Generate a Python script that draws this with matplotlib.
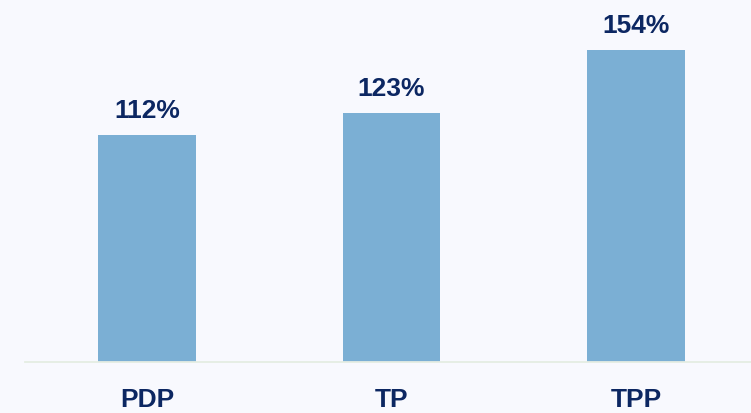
import matplotlib
matplotlib.use('Agg')
import matplotlib.pyplot as plt

# Chart data
categories = ['PDP', 'TP', 'TPP']
values = [112, 123, 154]
value_labels = ['112%', '123%', '154%']

BG = '#F8F9FE'
BAR = '#7BAFD4'
TEXT = '#0C2762'

plt.rcParams['font.family'] = ['Liberation Sans', 'DejaVu Sans']

fig = plt.figure(figsize=(7.51, 4.14), dpi=100, facecolor=BG)
ax = fig.add_axes([25 / 751, 51 / 414, 726 / 751, 363 / 414])
ax.set_facecolor(BG)

x = list(range(len(categories)))
ax.bar(x, values, width=0.4, color=BAR, zorder=2)

# percentage labels above the bars
for xi, v, lab in zip(x, values, value_labels):
    ax.annotate(lab, (xi, v), xytext=(0, 13), textcoords='offset points',
                ha='center', va='baseline', fontsize=19, fontweight='bold',
                color=TEXT)

ax.set_xlim(-0.499, 2.47)
ax.set_ylim(0, 179)

ax.set_xticks(x)
ax.set_xticklabels(categories, fontsize=19, fontweight='bold', color=TEXT)
ax.tick_params(axis='x', length=0, pad=18)
ax.set_yticks([])

for side in ['top', 'right', 'left']:
    ax.spines[side].set_visible(False)
ax.spines['bottom'].set_color('#E5EDE3')
ax.spines['bottom'].set_linewidth(1.3)

fig.savefig('out.png', dpi=100, facecolor=BG)
plt.close(fig)
